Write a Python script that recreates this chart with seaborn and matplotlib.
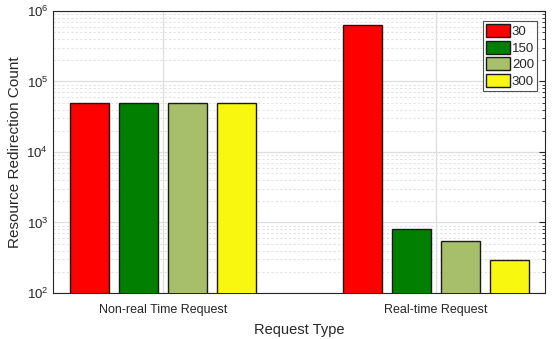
import matplotlib
matplotlib.use("Agg")
import matplotlib.pyplot as plt
import seaborn as sns
import pandas as pd
from matplotlib.ticker import LogLocator, NullFormatter, LogFormatterMathtext

# Request categories and the series (legend values)
categories = ["Non-real Time Request", "Real-time Request"]
series = ["30", "150", "200", "300"]
non_real_counts = [50000, 50000, 50000, 50000]
real_time_counts = [630000, 810, 550, 290]
colors = ["#FF0000", "#007F00", "#A7BE6B", "#F7F70F"]

rows = []
for cat, vals in zip(categories, [non_real_counts, real_time_counts]):
    for s, v in zip(series, vals):
        rows.append({"Request Type": cat, "Series": s, "Count": v})
df = pd.DataFrame(rows)

sns.set_style("white")
plt.rcParams["font.family"] = ["Liberation Sans", "DejaVu Sans"]

fig = plt.figure(figsize=(5.59, 3.39), dpi=100)
ax = fig.add_axes([0.0948, 0.1357, 0.8802, 0.8319])
ax.set_yscale("log")

sns.barplot(data=df, x="Request Type", y="Count", hue="Series",
            hue_order=series, palette=colors, width=0.72, gap=0.2,
            edgecolor="#1a1a1a", linewidth=1.0, saturation=1, ax=ax,
            errorbar=None, zorder=3)

ax.set_ylim(1e2, 1e6)
ax.set_xlim(-0.403, 1.40)

ax.yaxis.set_major_locator(LogLocator(base=10, numticks=10))
ax.yaxis.set_minor_locator(LogLocator(base=10, subs=range(2, 10), numticks=50))
ax.yaxis.set_major_formatter(LogFormatterMathtext())
ax.yaxis.set_minor_formatter(NullFormatter())

ax.set_axisbelow(True)
ax.grid(True, which="major", axis="both", color="#dedede", linewidth=0.9, linestyle="-")
ax.grid(True, which="minor", axis="y", color="#e3e3e3", linewidth=0.8, linestyle=(0, (2, 2)))

ax.tick_params(axis="both", which="both", direction="in", right=True, top=False,
               colors="#262626", labelsize=9, labelcolor="#262626")
ax.tick_params(axis="y", which="major", length=4, labelsize=9.5)
ax.tick_params(axis="y", which="minor", length=2)
ax.tick_params(axis="x", which="major", length=3, pad=8)

for sp in ax.spines.values():
    sp.set_color("#262626")
    sp.set_linewidth(0.8)
    sp.set_visible(True)

ax.set_xlabel("Request Type", fontsize=10.5, color="#262626", labelpad=5)
ax.set_ylabel("Resource Redirection Count", fontsize=11, color="#262626", labelpad=3)

leg = ax.legend(loc="upper right", bbox_to_anchor=(0.99, 0.975), fontsize=9.5,
                frameon=True, fancybox=False, edgecolor="#262626",
                handlelength=1.8, handleheight=1.15, handletextpad=0.15,
                labelspacing=0.2, borderpad=0.25, borderaxespad=0.2)
leg.get_frame().set_linewidth(0.8)

fig.savefig("out.png", dpi=100)
